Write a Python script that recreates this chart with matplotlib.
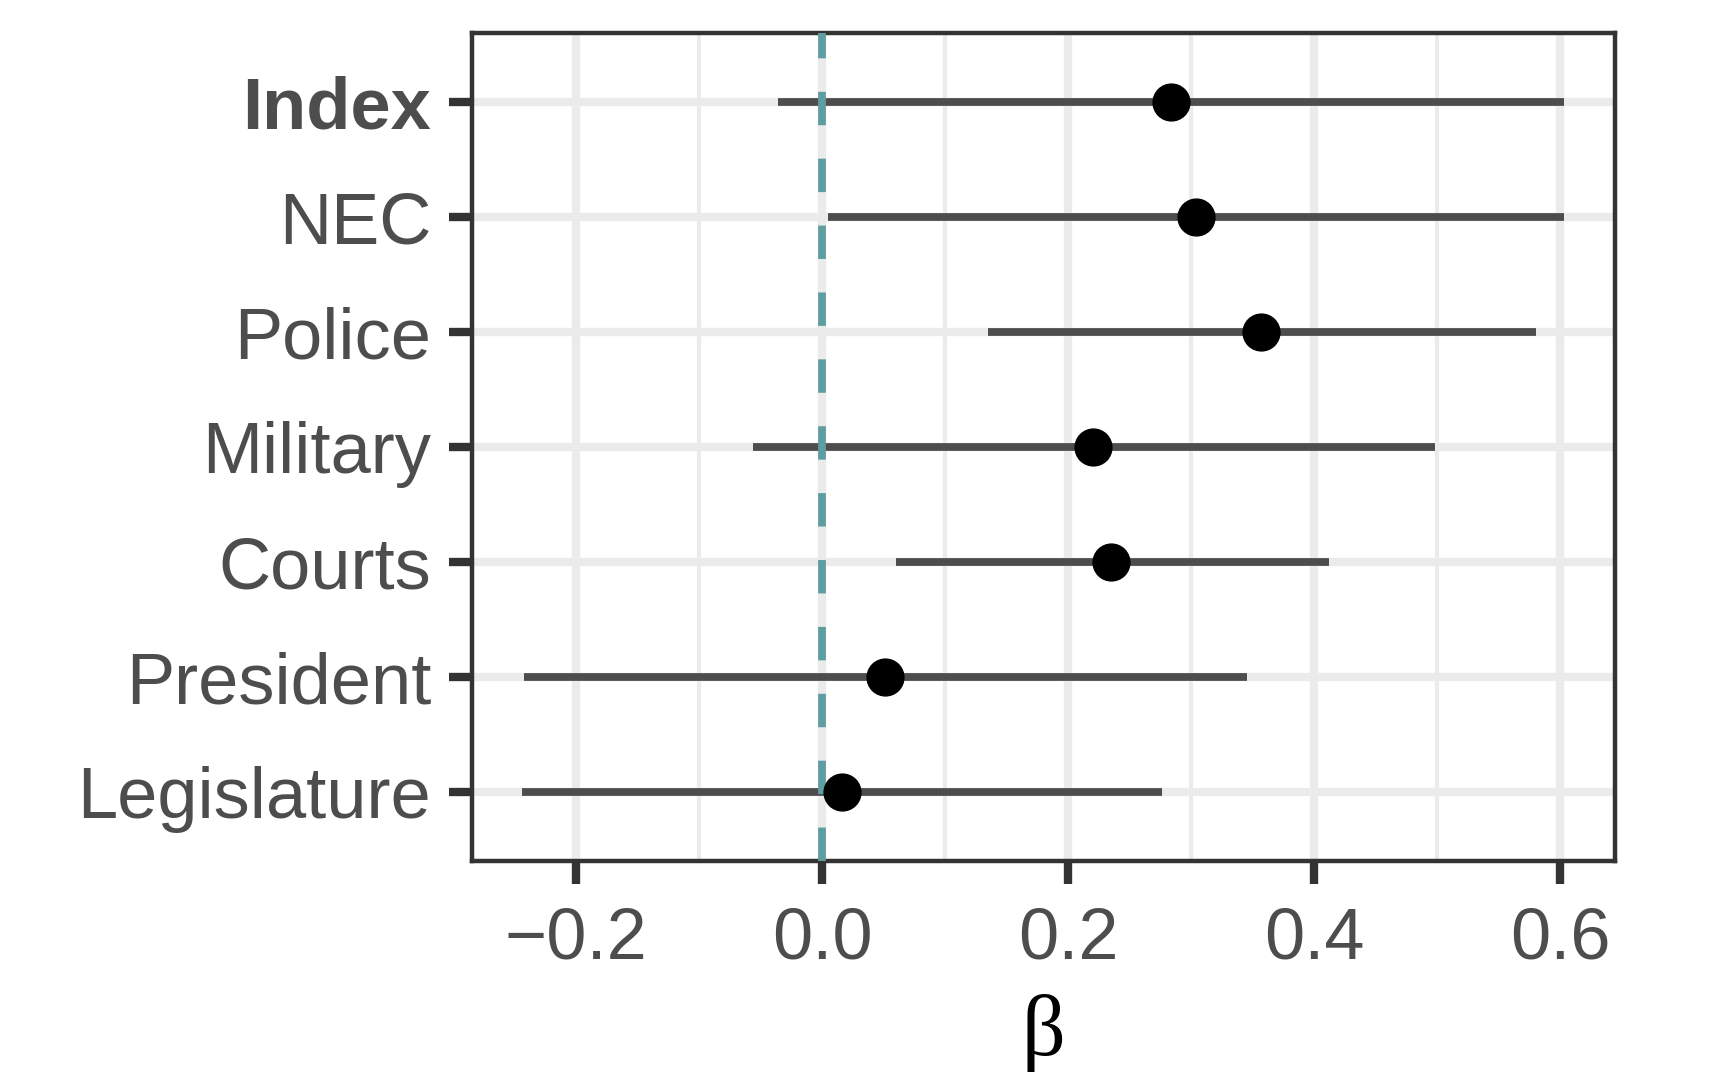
import matplotlib
matplotlib.use("Agg")
import matplotlib.pyplot as plt

# estimates and 95% intervals, top to bottom
labels = ["Index", "NEC", "Police", "Military", "Courts", "President", "Legislature"]
beta = [0.284, 0.304, 0.357, 0.220, 0.235, 0.051, 0.016]
lower = [-0.036, 0.005, 0.135, -0.056, 0.060, -0.242, -0.244]
upper = [0.603, 0.603, 0.580, 0.498, 0.412, 0.345, 0.276]

xticks = [-0.2, 0.0, 0.2, 0.4, 0.6]
xminor = [-0.1, 0.1, 0.3, 0.5]
xticklabels = ["\u22120.2", "0.0", "0.2", "0.4", "0.6"]

plt.rcParams['font.family'] = ['Liberation Sans', 'DejaVu Sans']

fig = plt.figure(figsize=(17.14, 10.72), dpi=100)
ax = fig.add_axes([0.2754, 0.1968, 0.6668, 0.7724])

ypos = list(range(len(labels)))[::-1]

ax.hlines(ypos, lower, upper, color="#4D4D4D", linewidth=5.6, zorder=3)
ax.axvline(0, color="#5F9EA0", linewidth=5.6, dashes=(4.3, 4.3), zorder=4)
ax.plot(beta, ypos, "o", color="black", markersize=26.5, zorder=5)

ax.set_xlim(-0.2844, 0.6444)
ax.set_ylim(-0.6, len(labels) - 0.4)

ax.set_xticks(xticks)
ax.set_xticklabels(xticklabels)
ax.set_xticks(xminor, minor=True)
ax.set_yticks(ypos)
ax.set_yticklabels(labels)
ax.get_yticklabels()[0].set_fontweight("bold")

ax.grid(which="major", axis="x", color="#EBEBEB", linewidth=6.0, zorder=0)
ax.grid(which="minor", axis="x", color="#EBEBEB", linewidth=3.0, zorder=0)
ax.grid(which="major", axis="y", color="#EBEBEB", linewidth=6.0, zorder=0)
ax.set_axisbelow(True)

ax.tick_params(axis="both", which="major", length=16.5, width=6.0, color="#333333",
               labelsize=52, labelcolor="#4D4D4D")
ax.tick_params(axis="y", pad=13)
ax.tick_params(axis="x", pad=16)
ax.tick_params(axis="x", which="minor", length=0)
for s in ax.spines.values():
    s.set_color("#333333")
    s.set_linewidth(3.2)

ax.set_xlabel("\u03b2", fontsize=62, family="Liberation Serif", color="black", labelpad=15)

fig.savefig("out.png", dpi=100, facecolor="white")
